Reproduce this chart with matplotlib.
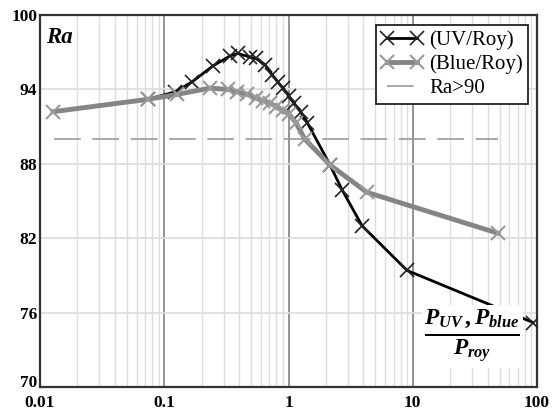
import matplotlib
matplotlib.use("Agg")
import matplotlib.pyplot as plt
from matplotlib.ticker import NullFormatter, LogLocator

# ---- data ----
uv_x = [0.074, 0.122, 0.167, 0.247, 0.338, 0.392, 0.49, 0.545, 0.647, 0.737, 0.82,
        0.90, 1.0, 1.1, 1.25, 1.42, 2.16, 2.70, 3.91, 9.0, 93.0]
uv_y = [93.2, 93.8, 94.6, 95.9, 96.7, 96.9, 96.6, 96.5, 96.0, 95.2, 94.6,
        94.1, 93.5, 92.9, 92.2, 91.3, 87.9, 85.9, 83.0, 79.4, 75.2]

blue_x = [0.0127, 0.074, 0.127, 0.233, 0.326, 0.385, 0.466, 0.545, 0.62, 0.71, 0.80,
          0.90, 1.01, 1.15, 1.35, 2.16, 4.28, 48.5]
blue_y = [92.2, 93.2, 93.6, 94.1, 94.0, 93.8, 93.6, 93.3, 93.1, 92.9, 92.6,
          92.3, 92.0, 91.3, 90.0, 87.9, 85.7, 82.4]

ref_x = [0.013, 48.5]
ref_y = [90, 90]

y_ticks = [70, 76, 82, 88, 94, 100]
x_ticks = [0.01, 0.1, 1, 10, 100]
x_labels = ["0.01", "0.1", "1", "10", "100"]

SERIF = 'Liberation Serif'
plt.rcParams['font.family'] = SERIF
plt.rcParams['mathtext.fontset'] = 'custom'
plt.rcParams['mathtext.it'] = 'Liberation Serif:style=italic:weight=bold'
plt.rcParams['mathtext.rm'] = 'Liberation Serif:weight=bold'
plt.rcParams['mathtext.bf'] = 'Liberation Serif:weight=bold'

fig = plt.figure(figsize=(5.57, 4.12), dpi=100)
ax = fig.add_axes([40/557, 25/412, 497/557, 372/412])
ax.set_xscale('log')
ax.set_xlim(0.01, 100)
ax.set_ylim(70, 100)

# grid
ax.xaxis.set_minor_locator(LogLocator(base=10, subs=range(2, 10)))
ax.xaxis.set_minor_formatter(NullFormatter())
ax.grid(which='minor', axis='x', color='#dcdcdc', lw=1.0, zorder=0)
ax.grid(which='major', axis='x', color='#808080', lw=1.2, zorder=0)
ax.grid(which='major', axis='y', color='#dcdcdc', lw=1.2, zorder=0)
ax.set_axisbelow(True)

ax.set_xticks(x_ticks)
ax.set_xticklabels(x_labels, family=SERIF, fontweight='bold', fontsize=12.5)
ax.set_yticks(y_ticks)
ylabs = ax.set_yticklabels([str(v) for v in y_ticks], family=SERIF,
                           fontweight='bold', fontsize=12.5)
ylabs[0].set_va('baseline')
ax.tick_params(which='both', length=0)
ax.tick_params(axis='x', pad=6)
ax.tick_params(axis='y', pad=2)

for s in ax.spines.values():
    s.set_color('#333333')
    s.set_linewidth(1.6)

ln_ref, = ax.plot(ref_x, ref_y, color='#9a9a9a', lw=1.2, dashes=(16, 7), zorder=2,
                  label='Ra>90')
ln_uv, = ax.plot(uv_x, uv_y, color='black', lw=2.0, marker='x', ms=10, mew=1.2,
                 mec='#222222', zorder=3, label='(UV/Roy)')
ln_blue, = ax.plot(blue_x, blue_y, color='#858585', lw=3.5, marker='x', ms=10, mew=1.5,
                   mec='#9a9a9a', zorder=4, label='(Blue/Roy)')

leg = ax.legend(handles=[ln_uv, ln_blue, ln_ref], loc='upper right',
                bbox_to_anchor=(0.982, 0.973), prop={'family': SERIF, 'size': 15},
                frameon=True, fancybox=False, edgecolor='#222222', framealpha=1,
                handlelength=2.0, handletextpad=0.3, borderpad=0.25, labelspacing=0.22,
                borderaxespad=0, numpoints=2)
leg.get_frame().set_linewidth(1.3)

ax.text(0.012, 0.94, 'Ra', transform=ax.transAxes, family=SERIF,
        fontweight='bold', fontstyle='italic', fontsize=16.5, va='center', ha='left')

ax.text(0.87, 0.135, r'$\frac{P_{UV}\,,P_{blue}}{P_{roy}}$', transform=ax.transAxes,
        fontsize=24, ha='center', va='center', zorder=6,
        bbox=dict(facecolor='white', edgecolor='none', pad=2))

fig.savefig('out.png', dpi=100)
